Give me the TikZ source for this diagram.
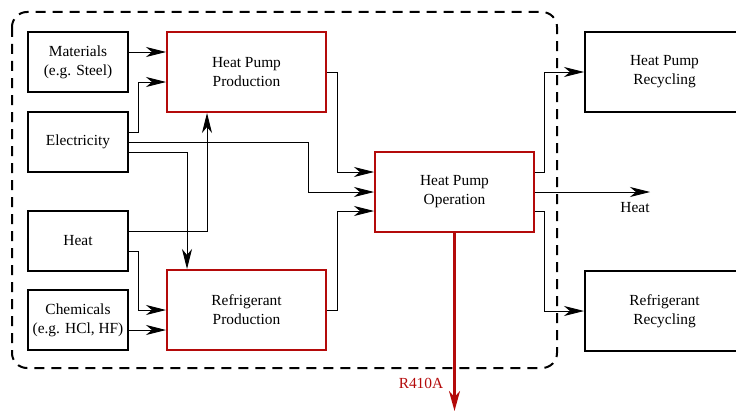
\documentclass[tikz,border=0pt]{standalone}
\usepackage{fontspec}
\setmainfont{Liberation Serif}
\usetikzlibrary{arrows.meta,calc}
\definecolor{dred}{RGB}{180,10,10}
\begin{document}
\begin{tikzpicture}[x=1pt,y=-1pt,
  every node/.style={font=\fontsize{15.4}{19}\selectfont, align=center, inner sep=0pt},
  inbox/.style={draw=black, line width=2pt, minimum width=100pt, minimum height=60pt},
  procbox/.style={draw=dred, line width=2pt, minimum width=159pt, minimum height=80pt},
  outbox/.style={draw=black, line width=2pt, minimum width=159pt, minimum height=80pt},
  arr/.style={-{Stealth[length=20pt,width=10pt,inset=6pt]}, line width=0.9pt},
  redarr/.style={-{Stealth[length=20pt,width=11pt,inset=6pt]}, line width=2.2pt, draw=dred},
  system/.style={dashed, line width=2pt, dash pattern=on 10pt off 7pt, rounded corners=15pt}
]
\useasboundingbox (0,0) rectangle (736,412);
\clip (0,0) rectangle (736,412);

\draw[system] (12,12) rectangle (557,368);

\node[inbox] (mat) at (78,62) {Materials\\(e.g. Steel)};
\node[inbox] (ele) at (78,142) {Electricity};
\node[inbox] (heat) at (78,241) {Heat};
\node[inbox] (chem) at (78,320) {Chemicals\\(e.g. HCl, HF)};

\node[procbox] (hpp) at (246.5,72) {Heat Pump\\Production};
\node[procbox] (rp) at (246.5,310) {Refrigerant\\Production};
\node[procbox] (op) at (454.5,192) {Heat Pump\\Operation};

\node[outbox] (hpr) at (664.5,72) {Heat Pump\\Recycling};
\node[outbox] (rr) at (664.5,311) {Refrigerant\\Recycling};

\node (heatlbl) at (635,208) {Heat};
\node[text=dred] (rlbl) at (421,383) {R410A};
\coordinate (hend) at (650,192);
\coordinate (rend) at (454.5,411);

\draw[arr] ($(mat.east)+(0,-10)$) -- ($(hpp.west)+(0,-20)$);
\draw[arr] ($(ele.east)+(0,-10)$) -- ++(9,0) |- ($(hpp.west)+(0,10)$);
\draw[arr] (ele.east) -- ++(179,0) |- (op.west);
\draw[arr] ($(ele.east)+(0,10)$) -| ($(rp.north)+(-59.5,0)$);
\draw[arr] ($(heat.east)+(0,-10)$) -| ($(hpp.south)+(-39.5,0)$);
\draw[arr] ($(heat.east)+(0,10)$) -- ++(9,0) |- (rp.west);
\draw[arr] ($(chem.east)+(0,10)$) -- ($(rp.west)+(0,20)$);
\draw[arr] (hpp.east) -- ++(10,0) |- ($(op.west)+(0,-20)$);
\draw[arr] (rp.east) -- ++(10,0) |- ($(op.west)+(0,19)$);
\draw[arr] ($(op.east)+(0,-20)$) -- ++(9,0) |- (hpr.west);
\draw[arr] (op.east) -- (hend);
\draw[arr] ($(op.east)+(0,19)$) -- ++(9,0) |- (rr.west);
\draw[redarr] (op.south) -- (rend);
\end{tikzpicture}
\end{document}
